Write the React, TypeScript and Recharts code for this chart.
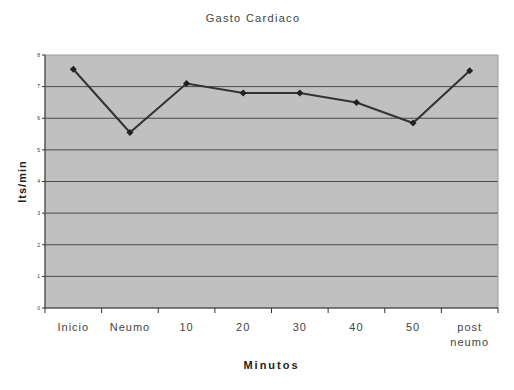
import { LineChart, Line, XAxis, YAxis, CartesianGrid, ReferenceArea, Label } from "recharts";

const categorias = ["Inicio", "Neumo", "10", "20", "30", "40", "50", "post neumo"];
const gastoCardiaco = [7.55, 5.55, 7.1, 6.8, 6.8, 6.5, 5.85, 7.5];
const yTicks = [0, 1, 2, 3, 4, 5, 6, 7, 8];
const gridValues = [1, 2, 3, 4, 5, 6, 7];

const data = categorias.map((c, i) => ({ cat: c, valor: gastoCardiaco[i] }));

const font = "Arial, 'Liberation Sans', sans-serif";

function CatTick(props: any) {
  const { x, y, payload, index } = props;
  const half = payload.offset || 28.3;
  const words = String(payload.value).split(" ");
  return (
    <g>
      <line x1={x - half} y1={y - 8} x2={x - half} y2={y - 3} stroke="#333" />
      {index === categorias.length - 1 && (
        <line x1={x + half} y1={y - 8} x2={x + half} y2={y - 3} stroke="#333" />
      )}
      <text x={x} y={y + 15} textAnchor="middle" fontSize={11} fill="#444" fontFamily={font} letterSpacing={1}>
        {words.map((w, i) => (
          <tspan key={i} x={x} dy={i === 0 ? 0 : 15}>{w}</tspan>
        ))}
      </text>
    </g>
  );
}

function Diamond(props: any) {
  const { cx, cy } = props;
  const r = 3.5;
  return <polygon points={`${cx},${cy - r} ${cx + r},${cy} ${cx},${cy + r} ${cx - r},${cy}`} fill="#222" />;
}

export default function App() {
  return (
    <div style={{ position: "absolute", left: 0, top: 0, width: 514, height: 390, background: "#fff" }}>
      <div
        style={{
          position: "absolute",
          top: 12,
          left: 0,
          width: 514,
          textAlign: "center",
          fontFamily: font,
          fontSize: 11,
          color: "#444",
          letterSpacing: 1.3,
        }}
      >
        <span style={{ position: "relative", left: -4 }}>Gasto Cardiaco</span>
      </div>
      <LineChart width={514} height={390} data={data} margin={{ top: 55, right: 16, bottom: 0, left: 0 }}>
        <CartesianGrid
          horizontal
          vertical={false}
          fill="#c0c0c0"
          stroke="#4a4a4a"
          strokeWidth={1}
          horizontalValues={gridValues}
        />
        <ReferenceArea y1={0} y2={8} fill="none" stroke="#9a9a9a" strokeWidth={1} ifOverflow="visible" />
        <XAxis
          dataKey="cat"
          scale="band"
          height={82}
          interval={0}
          tickLine={false}
          axisLine={{ stroke: "#333", strokeWidth: 1 }}
          tick={<CatTick />}
        >
          <Label
            value="Minutos"
            position="insideBottom"
            offset={21}
            style={{ fontFamily: font, fontSize: 11, fontWeight: "bold", fill: "#222", letterSpacing: 2 }}
          />
        </XAxis>
        <YAxis
          width={45}
          domain={[0, 8]}
          ticks={yTicks}
          interval={0}
          tickSize={3}
          tickLine={{ stroke: "#333" }}
          axisLine={{ stroke: "#333", strokeWidth: 1 }}
          tick={{ fontSize: 5, fill: "#333", fontFamily: font }}
        >
          <Label
            value="lts/min"
            angle={-90}
            position="insideLeft"
            offset={22}
            style={{ fontFamily: font, fontSize: 11, fontWeight: "bold", fill: "#222", letterSpacing: 1, textAnchor: "middle" }}
          />
        </YAxis>
        <Line
          type="linear"
          dataKey="valor"
          stroke="#333"
          strokeWidth={2}
          dot={<Diamond />}
          activeDot={false}
          isAnimationActive={false}
        />
      </LineChart>
    </div>
  );
}
